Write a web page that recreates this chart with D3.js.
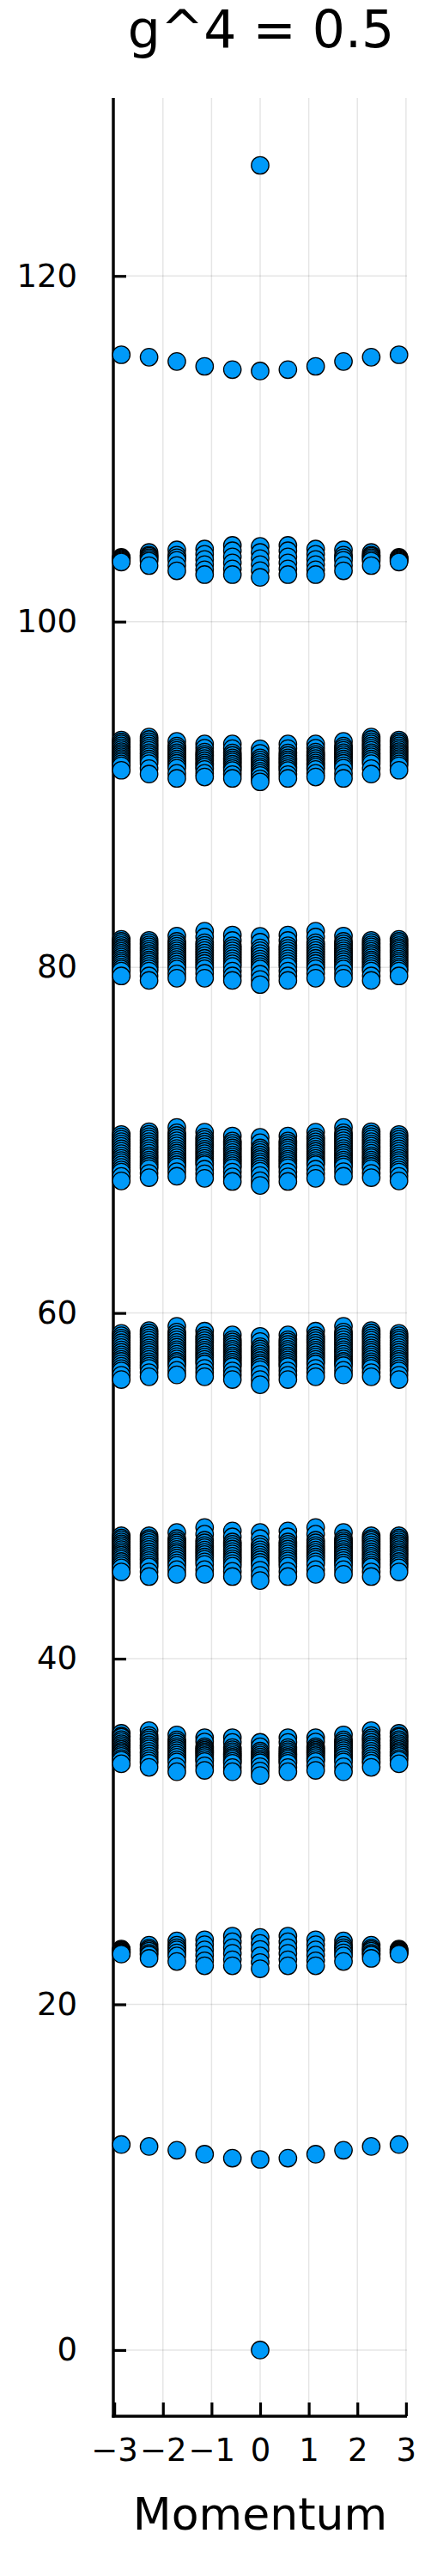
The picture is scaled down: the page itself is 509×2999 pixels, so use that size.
<!DOCTYPE html>
<html>
<head>
<meta charset="utf-8">
<script src="https://cdn.jsdelivr.net/npm/d3@7"></script>
<style>
  html, body { margin: 0; padding: 0; background: #fff; }
  svg { display: block; }
  text { font-family: "DejaVu Sans", sans-serif; fill: #000; }
</style>
</head>
<body>
<svg id="chart" width="509" height="2999"></svg>
<script>
// ---------- data ----------
const title = "g^4 = 0.5";
const xLabel = "Momentum";
const xTicks = [-3, -2, -1, 0, 1, 2, 3];
const yTicks = [0, 20, 40, 60, 80, 100, 120];
// momenta 2πk/11, k = -5..5
const momenta = [-2.856, -2.285, -1.714, -1.142, -0.571, 0, 0.571, 1.142, 1.714, 2.285, 2.856];

// each band: one list of energies per momentum (same order as momenta)
const band0 = [[], [], [], [], [], [0], [], [], [], [], []];
const band1 = [[11.89], [11.78], [11.56], [11.33], [11.10], [11.03], [11.10], [11.33], [11.56], [11.78], [11.89]];
const band2 = [
  [23.20, 23.15, 23.12, 23.06, 23.04, 22.99, 22.97, 22.91],
  [23.42, 23.25, 23.16, 23.08, 22.95, 22.86, 22.66],
  [23.67, 23.42, 23.28, 23.15, 22.98, 22.80, 22.48],
  [23.74, 23.45, 23.15, 22.85, 22.52, 22.23],
  [23.95, 23.62, 23.28, 22.95, 22.58, 22.23],
  [23.87, 23.52, 23.18, 22.80, 22.42, 22.06],
  [23.95, 23.62, 23.28, 22.95, 22.58, 22.23],
  [23.74, 23.45, 23.15, 22.85, 22.52, 22.23],
  [23.67, 23.42, 23.28, 23.15, 22.98, 22.80, 22.48],
  [23.42, 23.25, 23.16, 23.08, 22.95, 22.86, 22.66],
  [23.20, 23.15, 23.12, 23.06, 23.04, 22.99, 22.97, 22.91]
];
const band3 = [
  [35.68, 35.52, 35.45, 35.31, 35.20, 35.08, 34.98, 34.86, 34.75, 34.64, 34.55, 34.44, 34.35, 34.22, 34.12, 33.92],
  [35.84, 35.55, 35.41, 35.30, 35.16, 35.02, 34.90, 34.78, 34.64, 34.50, 34.36, 34.22, 34.08, 33.95, 33.71],
  [35.59, 35.30, 35.18, 35.05, 34.92, 34.80, 34.68, 34.55, 34.42, 34.30, 34.15, 34.02, 33.75, 33.46],
  [35.43, 35.18, 34.90, 34.80, 34.70, 34.60, 34.50, 34.39, 34.28, 34.16, 34.05, 33.80, 33.54],
  [35.43, 35.15, 34.85, 34.73, 34.62, 34.51, 34.40, 34.29, 34.18, 34.06, 33.95, 33.70, 33.46],
  [35.16, 34.90, 34.65, 34.53, 34.42, 34.31, 34.20, 34.09, 33.98, 33.75, 33.50, 33.24],
  [35.43, 35.15, 34.85, 34.73, 34.62, 34.51, 34.40, 34.29, 34.18, 34.06, 33.95, 33.70, 33.46],
  [35.43, 35.18, 34.90, 34.80, 34.70, 34.60, 34.50, 34.39, 34.28, 34.16, 34.05, 33.80, 33.54],
  [35.59, 35.30, 35.18, 35.05, 34.92, 34.80, 34.68, 34.55, 34.42, 34.30, 34.15, 34.02, 33.75, 33.46],
  [35.84, 35.55, 35.41, 35.30, 35.16, 35.02, 34.90, 34.78, 34.64, 34.50, 34.36, 34.22, 34.08, 33.95, 33.71],
  [35.68, 35.52, 35.45, 35.31, 35.20, 35.08, 34.98, 34.86, 34.75, 34.64, 34.55, 34.44, 34.35, 34.22, 34.12, 33.92]
];
const band4 = [
  [47.11, 46.98, 46.88, 46.76, 46.65, 46.54, 46.42, 46.31, 46.20, 46.09, 45.98, 45.86, 45.75, 45.62, 45.50, 45.38, 45.25, 45.02],
  [47.11, 46.96, 46.85, 46.72, 46.58, 46.45, 46.32, 46.18, 46.05, 45.92, 45.80, 45.68, 45.55, 45.42, 45.30, 45.02, 44.75],
  [47.30, 46.95, 46.82, 46.70, 46.58, 46.45, 46.32, 46.20, 46.08, 45.95, 45.82, 45.68, 45.54, 45.40, 45.15, 44.88],
  [47.59, 47.20, 46.85, 46.70, 46.55, 46.42, 46.28, 46.15, 46.02, 45.88, 45.75, 45.60, 45.45, 45.15, 44.88],
  [47.39, 47.05, 46.75, 46.62, 46.48, 46.34, 46.20, 46.06, 45.92, 45.78, 45.65, 45.50, 45.35, 45.05, 44.75],
  [47.30, 46.95, 46.62, 46.46, 46.30, 46.15, 46.00, 45.86, 45.72, 45.57, 45.42, 45.12, 44.82, 44.52],
  [47.39, 47.05, 46.75, 46.62, 46.48, 46.34, 46.20, 46.06, 45.92, 45.78, 45.65, 45.50, 45.35, 45.05, 44.75],
  [47.59, 47.20, 46.85, 46.70, 46.55, 46.42, 46.28, 46.15, 46.02, 45.88, 45.75, 45.60, 45.45, 45.15, 44.88],
  [47.30, 46.95, 46.82, 46.70, 46.58, 46.45, 46.32, 46.20, 46.08, 45.95, 45.82, 45.68, 45.54, 45.40, 45.15, 44.88],
  [47.11, 46.96, 46.85, 46.72, 46.58, 46.45, 46.32, 46.18, 46.05, 45.92, 45.80, 45.68, 45.55, 45.42, 45.30, 45.02, 44.75],
  [47.11, 46.98, 46.88, 46.76, 46.65, 46.54, 46.42, 46.31, 46.20, 46.09, 45.98, 45.86, 45.75, 45.62, 45.50, 45.38, 45.25, 45.02]
];
const band5 = [
  [58.82, 58.68, 58.55, 58.42, 58.28, 58.14, 58.00, 57.86, 57.72, 57.58, 57.45, 57.32, 57.20, 57.06, 56.92, 56.78, 56.65, 56.40, 56.15],
  [58.98, 58.84, 58.70, 58.56, 58.42, 58.27, 58.12, 57.98, 57.85, 57.72, 57.58, 57.45, 57.32, 57.18, 57.05, 56.92, 56.80, 56.55, 56.31],
  [59.23, 58.90, 58.75, 58.60, 58.45, 58.30, 58.16, 58.02, 57.88, 57.75, 57.62, 57.48, 57.34, 57.20, 57.08, 56.95, 56.68, 56.42],
  [58.95, 58.68, 58.54, 58.40, 58.26, 58.12, 57.98, 57.85, 57.72, 57.58, 57.45, 57.32, 57.18, 57.05, 56.80, 56.55, 56.31],
  [58.73, 58.45, 58.32, 58.18, 58.04, 57.90, 57.78, 57.65, 57.52, 57.40, 57.28, 57.15, 57.02, 56.90, 56.65, 56.40, 56.15],
  [58.65, 58.35, 58.05, 57.92, 57.78, 57.64, 57.50, 57.38, 57.25, 57.12, 57.00, 56.86, 56.72, 56.45, 56.15, 55.85],
  [58.73, 58.45, 58.32, 58.18, 58.04, 57.90, 57.78, 57.65, 57.52, 57.40, 57.28, 57.15, 57.02, 56.90, 56.65, 56.40, 56.15],
  [58.95, 58.68, 58.54, 58.40, 58.26, 58.12, 57.98, 57.85, 57.72, 57.58, 57.45, 57.32, 57.18, 57.05, 56.80, 56.55, 56.31],
  [59.23, 58.90, 58.75, 58.60, 58.45, 58.30, 58.16, 58.02, 57.88, 57.75, 57.62, 57.48, 57.34, 57.20, 57.08, 56.95, 56.68, 56.42],
  [58.98, 58.84, 58.70, 58.56, 58.42, 58.27, 58.12, 57.98, 57.85, 57.72, 57.58, 57.45, 57.32, 57.18, 57.05, 56.92, 56.80, 56.55, 56.31],
  [58.82, 58.68, 58.55, 58.42, 58.28, 58.14, 58.00, 57.86, 57.72, 57.58, 57.45, 57.32, 57.20, 57.06, 56.92, 56.78, 56.65, 56.40, 56.15]
];
const band6 = [
  [70.33, 70.19, 70.05, 69.92, 69.78, 69.64, 69.50, 69.36, 69.22, 69.08, 68.95, 68.82, 68.70, 68.56, 68.42, 68.28, 68.15, 67.90, 67.64],
  [70.49, 70.34, 70.20, 70.06, 69.92, 69.78, 69.65, 69.52, 69.38, 69.24, 69.10, 68.98, 68.85, 68.72, 68.60, 68.48, 68.35, 68.08, 67.83],
  [70.74, 70.42, 70.27, 70.12, 69.97, 69.82, 69.67, 69.52, 69.38, 69.25, 69.12, 68.98, 68.85, 68.72, 68.58, 68.45, 68.18, 67.91],
  [70.46, 70.18, 70.04, 69.90, 69.76, 69.62, 69.48, 69.35, 69.22, 69.08, 68.95, 68.82, 68.70, 68.58, 68.32, 68.05, 67.79],
  [70.24, 69.95, 69.82, 69.68, 69.55, 69.42, 69.28, 69.15, 69.02, 68.90, 68.78, 68.65, 68.52, 68.40, 68.15, 67.88, 67.61],
  [70.16, 69.85, 69.55, 69.42, 69.28, 69.14, 69.00, 68.88, 68.75, 68.62, 68.48, 68.34, 68.20, 67.95, 67.65, 67.38],
  [70.24, 69.95, 69.82, 69.68, 69.55, 69.42, 69.28, 69.15, 69.02, 68.90, 68.78, 68.65, 68.52, 68.40, 68.15, 67.88, 67.61],
  [70.46, 70.18, 70.04, 69.90, 69.76, 69.62, 69.48, 69.35, 69.22, 69.08, 68.95, 68.82, 68.70, 68.58, 68.32, 68.05, 67.79],
  [70.74, 70.42, 70.27, 70.12, 69.97, 69.82, 69.67, 69.52, 69.38, 69.25, 69.12, 68.98, 68.85, 68.72, 68.58, 68.45, 68.18, 67.91],
  [70.49, 70.34, 70.20, 70.06, 69.92, 69.78, 69.65, 69.52, 69.38, 69.24, 69.10, 68.98, 68.85, 68.72, 68.60, 68.48, 68.35, 68.08, 67.83],
  [70.33, 70.19, 70.05, 69.92, 69.78, 69.64, 69.50, 69.36, 69.22, 69.08, 68.95, 68.82, 68.70, 68.56, 68.42, 68.28, 68.15, 67.90, 67.64]
];
const band7 = [
  [81.62, 81.50, 81.38, 81.26, 81.15, 81.04, 80.92, 80.81, 80.70, 80.59, 80.48, 80.36, 80.25, 80.14, 80.02, 79.90, 79.78, 79.50],
  [81.56, 81.43, 81.30, 81.18, 81.05, 80.92, 80.80, 80.68, 80.55, 80.42, 80.30, 80.18, 80.05, 79.92, 79.78, 79.50, 79.24],
  [81.81, 81.50, 81.36, 81.22, 81.08, 80.95, 80.82, 80.70, 80.58, 80.45, 80.32, 80.18, 80.04, 79.90, 79.62, 79.37],
  [82.09, 81.75, 81.42, 81.27, 81.12, 80.97, 80.82, 80.67, 80.52, 80.37, 80.22, 80.07, 79.92, 79.65, 79.37],
  [81.87, 81.55, 81.25, 81.10, 80.95, 80.80, 80.65, 80.50, 80.35, 80.20, 80.05, 79.78, 79.50, 79.24],
  [81.79, 81.45, 81.12, 80.96, 80.80, 80.64, 80.48, 80.33, 80.18, 80.04, 79.90, 79.60, 79.30, 79.00],
  [81.87, 81.55, 81.25, 81.10, 80.95, 80.80, 80.65, 80.50, 80.35, 80.20, 80.05, 79.78, 79.50, 79.24],
  [82.09, 81.75, 81.42, 81.27, 81.12, 80.97, 80.82, 80.67, 80.52, 80.37, 80.22, 80.07, 79.92, 79.65, 79.37],
  [81.81, 81.50, 81.36, 81.22, 81.08, 80.95, 80.82, 80.70, 80.58, 80.45, 80.32, 80.18, 80.04, 79.90, 79.62, 79.37],
  [81.56, 81.43, 81.30, 81.18, 81.05, 80.92, 80.80, 80.68, 80.55, 80.42, 80.30, 80.18, 80.05, 79.92, 79.78, 79.50, 79.24],
  [81.62, 81.50, 81.38, 81.26, 81.15, 81.04, 80.92, 80.81, 80.70, 80.59, 80.48, 80.36, 80.25, 80.14, 80.02, 79.90, 79.78, 79.50]
];
const band8 = [
  [93.15, 93.03, 92.92, 92.81, 92.70, 92.59, 92.48, 92.38, 92.28, 92.18, 92.08, 91.98, 91.88, 91.77, 91.66, 91.40],
  [93.32, 93.18, 93.05, 92.92, 92.80, 92.68, 92.55, 92.42, 92.30, 92.18, 92.05, 91.92, 91.78, 91.50, 91.18],
  [93.07, 92.80, 92.68, 92.55, 92.42, 92.30, 92.18, 92.05, 91.92, 91.80, 91.66, 91.52, 91.22, 90.93],
  [92.92, 92.68, 92.45, 92.32, 92.20, 92.08, 91.95, 91.82, 91.70, 91.58, 91.45, 91.22, 91.01],
  [92.92, 92.65, 92.40, 92.26, 92.12, 92.00, 91.88, 91.75, 91.62, 91.50, 91.38, 91.15, 90.93],
  [92.64, 92.38, 92.12, 91.99, 91.86, 91.73, 91.60, 91.48, 91.35, 91.22, 91.10, 90.90, 90.73],
  [92.92, 92.65, 92.40, 92.26, 92.12, 92.00, 91.88, 91.75, 91.62, 91.50, 91.38, 91.15, 90.93],
  [92.92, 92.68, 92.45, 92.32, 92.20, 92.08, 91.95, 91.82, 91.70, 91.58, 91.45, 91.22, 91.01],
  [93.07, 92.80, 92.68, 92.55, 92.42, 92.30, 92.18, 92.05, 91.92, 91.80, 91.66, 91.52, 91.22, 90.93],
  [93.32, 93.18, 93.05, 92.92, 92.80, 92.68, 92.55, 92.42, 92.30, 92.18, 92.05, 91.92, 91.78, 91.50, 91.18],
  [93.15, 93.03, 92.92, 92.81, 92.70, 92.59, 92.48, 92.38, 92.28, 92.18, 92.08, 91.98, 91.88, 91.77, 91.66, 91.40]
];
const band9 = [
  [103.72, 103.68, 103.65, 103.60, 103.55, 103.50, 103.45],
  [104.00, 103.85, 103.78, 103.70, 103.60, 103.50, 103.24],
  [104.15, 103.85, 103.70, 103.55, 103.25, 102.94],
  [104.20, 103.90, 103.60, 103.30, 103.00, 102.72],
  [104.41, 104.10, 103.75, 103.40, 103.05, 102.72],
  [104.35, 104.00, 103.65, 103.30, 102.95, 102.56],
  [104.41, 104.10, 103.75, 103.40, 103.05, 102.72],
  [104.20, 103.90, 103.60, 103.30, 103.00, 102.72],
  [104.15, 103.85, 103.70, 103.55, 103.25, 102.94],
  [104.00, 103.85, 103.78, 103.70, 103.60, 103.50, 103.24],
  [103.72, 103.68, 103.65, 103.60, 103.55, 103.50, 103.45]
];
const band10 = [[115.44], [115.30], [115.05], [114.77], [114.58], [114.50], [114.58], [114.77], [115.05], [115.30], [115.44]];
const band11 = [[], [], [], [], [], [126.4], [], [], [], [], []];

const bands = [band0, band1, band2, band3, band4, band5, band6, band7, band8, band9, band10, band11];

// ---------- drawing ----------
const svg = d3.select("#chart");
svg.append("rect").attr("width", 509).attr("height", 2999).attr("fill", "#fff");

const x = d3.scaleLinear().domain([-3.02, 3.02]).range([132, 474]);
const y = d3.scaleLinear().domain([-3.83, 130.3]).range([2813, 114]);

const plotLeft = x.range()[0], plotRight = x.range()[1];
const plotTop = y.range()[1], plotBottom = y.range()[0];

// grid
const grid = svg.append("g");
grid.selectAll("line.vx").data(xTicks).join("line")
  .attr("x1", d => x(d)).attr("x2", d => x(d))
  .attr("y1", plotTop).attr("y2", plotBottom)
  .attr("stroke", "#000").attr("stroke-opacity", 0.1).attr("stroke-width", 1.5);
grid.selectAll("line.hy").data(yTicks).join("line")
  .attr("x1", plotLeft).attr("x2", plotRight)
  .attr("y1", d => y(d)).attr("y2", d => y(d))
  .attr("stroke", "#000").attr("stroke-opacity", 0.1).attr("stroke-width", 1.5);

// axes
const xAxis = d3.axisBottom(x).tickValues(xTicks).tickSize(-16).tickPadding(26)
  .tickFormat(d => d < 0 ? "\u2212" + Math.abs(d) : String(d));
const yAxis = d3.axisLeft(y).tickValues(yTicks).tickSize(-15).tickPadding(42);

const gx = svg.append("g").attr("transform", `translate(0,${plotBottom})`).call(xAxis);
const gy = svg.append("g").attr("transform", `translate(${plotLeft},0)`).call(yAxis);
[gx, gy].forEach(g => {
  g.select(".domain").remove();
  g.selectAll(".tick line").attr("stroke", "#000").attr("stroke-width", 3.2);
  g.selectAll(".tick text").attr("font-family", "DejaVu Sans").attr("font-size", 37).attr("fill", "#000");
});
gx.selectAll(".tick text").attr("dy", "0.71em");
svg.append("line").attr("x1", plotLeft).attr("x2", plotLeft).attr("y1", plotTop).attr("y2", plotBottom + 1.6)
  .attr("stroke", "#000").attr("stroke-width", 3.4);
svg.append("line").attr("x1", plotLeft - 1.6).attr("x2", plotRight).attr("y1", plotBottom).attr("y2", plotBottom)
  .attr("stroke", "#000").attr("stroke-width", 3.4);

// points
const points = [];
bands.forEach(band => band.forEach((vals, i) => vals.forEach(v => points.push({ m: momenta[i], e: v }))));
svg.append("g").selectAll("circle").data(points).join("circle")
  .attr("cx", d => x(d.m)).attr("cy", d => y(d.e)).attr("r", 10.2)
  .attr("fill", "#009AF9").attr("stroke", "#000").attr("stroke-width", 1.3);

// labels
svg.append("text").attr("x", 304).attr("y", 55).attr("text-anchor", "middle")
  .attr("font-size", 60).text(title);
svg.append("text").attr("x", 303).attr("y", 2945).attr("text-anchor", "middle")
  .attr("font-size", 52).text(xLabel);
</script>
</body>
</html>
